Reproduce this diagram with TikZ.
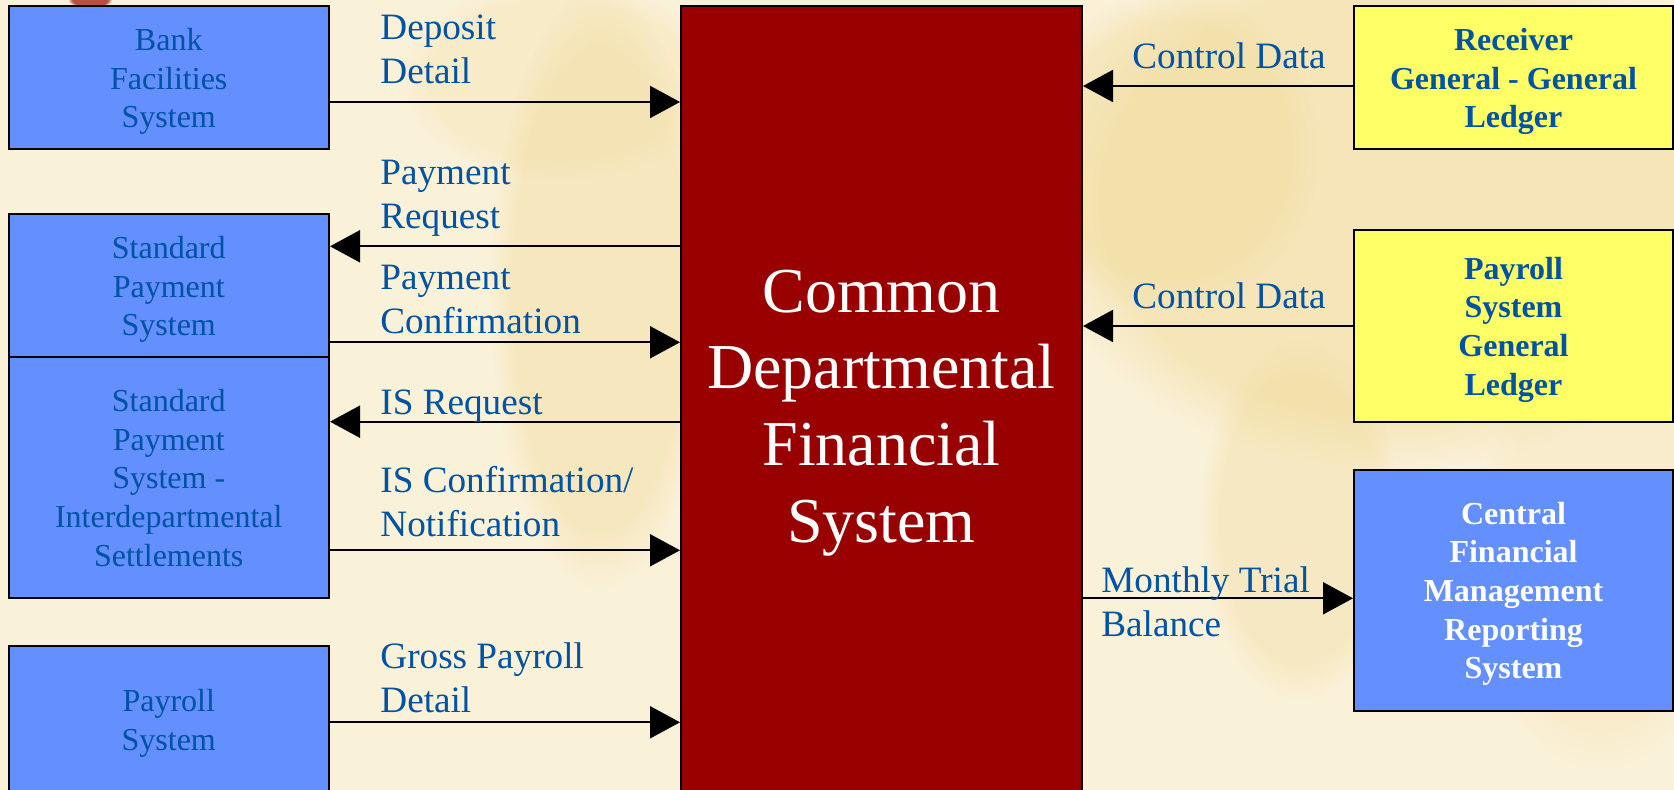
\documentclass[tikz,border=0pt]{standalone}
\usepackage{fontspec}
\setmainfont{Liberation Serif}
\usetikzlibrary{arrows.meta,fadings}

\definecolor{paper}{HTML}{FAF1D9}
\definecolor{mapsand}{HTML}{F1DA98}
\definecolor{boxblue}{HTML}{638FFF}
\definecolor{txtblue}{HTML}{0052A3}
\definecolor{deepred}{HTML}{990000}
\definecolor{ledgeryellow}{HTML}{FFFF66}
\definecolor{logored}{HTML}{A8281A}

\tikzset{
  sysbox/.style={draw=black, line width=1pt, fill=boxblue, text=txtblue,
    align=center, inner sep=0pt, minimum width=160.25pt, text depth=-1.7pt,
    font=\fontsize{16}{19.35}\selectfont},
  ledgerbox/.style={sysbox, fill=ledgeryellow, font=\bfseries\fontsize{16}{19.35}\selectfont},
  reportbox/.style={sysbox, text=white, font=\bfseries\fontsize{16}{19.35}\selectfont},
  corebox/.style={draw=black, line width=1pt, fill=deepred, text=white,
    align=center, inner sep=0pt, minimum width=200.5pt, minimum height=407pt,
    font=\fontsize{32}{38.4}\selectfont},
  flowlabel/.style={text=txtblue, align=left, inner sep=0pt, anchor=base west,
    font=\fontsize{18.6}{22.25}\selectfont},
  flow/.style={-{Triangle[length=15pt,width=16pt]}, line width=1pt, draw=black},
  mapblob/.style={fill=mapsand, path fading=circle with fuzzy edge 20 percent}
}

\begin{document}
\begin{tikzpicture}[x=0.5pt,y=-0.5pt]
\useasboundingbox (0,0) rectangle (1674,790);
\clip (0,0) rectangle (1674,790);

% paper background with a faint map watermark
\fill[paper] (0,0) rectangle (1674,790);
\fill[mapblob, opacity=0.4] (600,290) ellipse [x radius=110, y radius=300];
\fill[mapblob, opacity=0.25] (560,80) ellipse [x radius=160, y radius=100];
\fill[mapblob, opacity=0.5] (1390,200) ellipse [x radius=360, y radius=270];
\fill[mapblob, opacity=0.35] (1170,150) ellipse [x radius=150, y radius=160];
\fill[mapblob, opacity=0.35] (1300,520) ellipse [x radius=100, y radius=180];
\fill[mapblob, opacity=0.2] (1600,560) ellipse [x radius=130, y radius=210];

% emblem peeking out above the first box
\fill[logored, opacity=0.8, path fading=circle with fuzzy edge 20 percent] (90,0) ellipse [x radius=22, y radius=8];

% left-hand systems
\node[sysbox, minimum height=71.5pt] (bank) at (168.75,78)
  {Bank\\Facilities\\System};
\node[sysbox, minimum height=71.5pt] (sps) at (168.75,286)
  {Standard\\Payment\\System};
\node[sysbox, minimum height=120.25pt] (spsis) at (168.75,477.75)
  {Standard\\Payment\\System -\\Interdepartmental\\Settlements};
\node[sysbox, minimum height=74pt] (payroll) at (168.75,720)
  {Payroll\\System};

% central system
\node[corebox] (cdfs) at (881.5,413)
  {Common\\Departmental\\Financial\\System};

% right-hand systems
\node[ledgerbox, minimum width=159.5pt, minimum height=71.5pt] (rggl) at (1513.5,78)
  {Receiver\\General - General\\Ledger};
\node[ledgerbox, minimum width=159.5pt, minimum height=96pt] (psgl) at (1513.5,326.2)
  {Payroll\\System\\General\\Ledger};
\node[reportbox, minimum width=159.5pt, minimum height=120.35pt] (cfmrs) at (1513.5,590.3)
  {Central\\Financial\\Management\\Reporting\\System};

% flows on the left
\draw[flow] (bank.east |- 0,102) -- (cdfs.west |- 0,102);
\draw[flow] (cdfs.west |- 0,246.3) -- (sps.east |- 0,246.3);
\draw[flow] (sps.east |- 0,342.3) -- (cdfs.west |- 0,342.3);
\draw[flow] (cdfs.west |- 0,421.7) -- (spsis.east |- 0,421.7);
\draw[flow] (spsis.east |- 0,550.3) -- (cdfs.west |- 0,550.3);
\draw[flow] (payroll.east |- 0,722.3) -- (cdfs.west |- 0,722.3);

% flows on the right
\draw[flow] (rggl.west |- 0,86) -- (cdfs.east |- 0,86);
\draw[flow] (psgl.west |- 0,326) -- (cdfs.east |- 0,326);
\draw[flow] (cdfs.east |- 0,598.3) -- (cfmrs.west |- 0,598.3);

% flow labels (anchored on the baseline of their last line)
\node[flowlabel] (lbldep) at (380,84) {Deposit\\Detail};
\node[flowlabel] (lblpreq) at (380,229) {Payment\\Request};
\node[flowlabel] (lblpconf) at (380,334) {Payment\\Confirmation};
\node[flowlabel] (lblisreq) at (380,415) {IS Request};
\node[flowlabel] (lblisconf) at (380,536.7) {IS Confirmation/\\Notification};
\node[flowlabel] (lblgross) at (380,712.7) {Gross Payroll\\Detail};
\node[flowlabel] (lblcd1) at (1132,68.3) {Control Data};
\node[flowlabel] (lblcd2) at (1132,308.3) {Control Data};
\node[flowlabel] (lblmtb) at (1101,636.7) {Monthly Trial\\Balance};
\end{tikzpicture}
\end{document}
